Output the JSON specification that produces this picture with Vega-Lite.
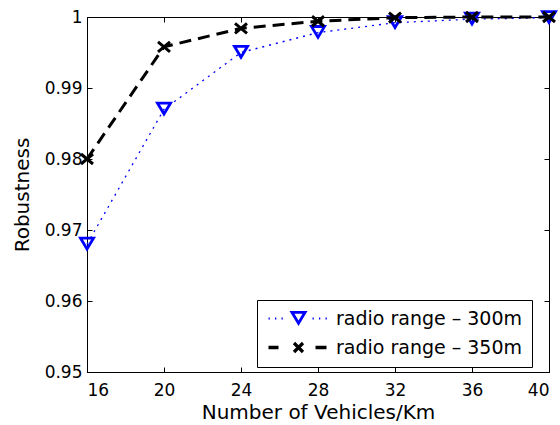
{
  "$schema": "https://vega.github.io/schema/vega-lite/v6.json",
  "width": 462,
  "height": 355,
  "autosize": {"type": "none"},
  "padding": {"left": 87, "top": 17, "right": 11, "bottom": 53},
  "background": "white",
  "config": {
    "view": {"stroke": "black", "strokeWidth": 1},
    "font": "DejaVu Sans",
    "axis": {
      "domainColor": "black", "tickColor": "black", "labelColor": "black", "titleColor": "black",
      "grid": false, "tickSize": -5, "tickWidth": 1, "domainWidth": 1,
      "labelFont": "DejaVu Sans", "labelFontSize": 17,
      "titleFont": "DejaVu Sans", "titleFontSize": 20, "titleFontWeight": "normal"
    }
  },
  "data": {"values": [
    {"n": 16, "series": "radio range – 300m", "r": 0.968},
    {"n": 20, "series": "radio range – 300m", "r": 0.987},
    {"n": 24, "series": "radio range – 300m", "r": 0.995},
    {"n": 28, "series": "radio range – 300m", "r": 0.9978},
    {"n": 32, "series": "radio range – 300m", "r": 0.9992},
    {"n": 36, "series": "radio range – 300m", "r": 0.9997},
    {"n": 40, "series": "radio range – 300m", "r": 0.9999},
    {"n": 16, "series": "radio range – 350m", "r": 0.980},
    {"n": 20, "series": "radio range – 350m", "r": 0.9958},
    {"n": 24, "series": "radio range – 350m", "r": 0.9984},
    {"n": 28, "series": "radio range – 350m", "r": 0.9994},
    {"n": 32, "series": "radio range – 350m", "r": 0.9999},
    {"n": 36, "series": "radio range – 350m", "r": 1.0},
    {"n": 40, "series": "radio range – 350m", "r": 1.0}
  ]},
  "layer": [
    {
      "transform": [{"filter": "datum.series === 'radio range – 300m'"}],
      "mark": {"type": "line", "color": "#0000ff", "strokeWidth": 1.3, "strokeDash": [2, 5], "strokeCap": "butt"},
      "encoding": {
        "x": {"field": "n", "type": "quantitative", "scale": {"domain": [16, 40], "nice": false, "zero": false},
              "axis": {"orient": "bottom", "values": [16, 20, 24, 28, 32, 36, 40], "title": "Number of Vehicles/Km", "labelPadding": 15, "titlePadding": 4}},
        "y": {"field": "r", "type": "quantitative", "scale": {"domain": [0.95, 1], "nice": false, "zero": false},
              "axis": {"orient": "left", "values": [0.95, 0.96, 0.97, 0.98, 0.99, 1], "format": "~g", "title": "Robustness", "labelPadding": 10, "titlePadding": 12}}
      }
    },
    {
      "transform": [{"filter": "datum.series === 'radio range – 300m'"}],
      "mark": {"type": "point", "shape": "M-9,-7.5L9,-7.5L0,7.5ZM-4.06,-4.7L0,2.06L4.06,-4.7Z", "size": 4, "filled": true, "color": "#0000ff", "opacity": 1, "strokeWidth": 0},
      "encoding": {
        "x": {"field": "n", "type": "quantitative", "axis": null},
        "y": {"field": "r", "type": "quantitative", "axis": null}
      }
    },
    {
      "transform": [{"filter": "datum.series === 'radio range – 350m'"}],
      "mark": {"type": "line", "color": "black", "strokeWidth": 3, "strokeDash": [12, 7], "strokeCap": "butt"},
      "encoding": {
        "x": {"field": "n", "type": "quantitative", "axis": {"orient": "top", "values": [16, 20, 24, 28, 32, 36, 40], "labels": false, "title": null, "domain": false}},
        "y": {"field": "r", "type": "quantitative", "axis": {"orient": "right", "values": [0.95, 0.96, 0.97, 0.98, 0.99, 1], "labels": false, "title": null, "domain": false}}
      }
    },
    {
      "transform": [{"filter": "datum.series === 'radio range – 350m'"}],
      "mark": {"type": "point", "shape": "M-5.04,-6.15L6.96,3.85L5.04,6.15L-6.96,-3.85ZM-6.96,3.85L5.04,-6.15L6.96,-3.85L-5.04,6.15Z", "size": 4, "filled": true, "color": "black", "opacity": 1, "strokeWidth": 0},
      "encoding": {
        "x": {"field": "n", "type": "quantitative", "axis": null},
        "y": {"field": "r", "type": "quantitative", "axis": null}
      }
    },
    {
      "mark": {"type": "point", "filled": true, "opacity": 0, "size": 4},
      "encoding": {
        "x": {"field": "n", "type": "quantitative", "axis": null},
        "y": {"field": "r", "type": "quantitative", "axis": null},
        "color": {"field": "series", "type": "nominal",
          "scale": {"domain": ["radio range – 300m", "radio range – 350m"], "range": ["#0000ff", "#000000"]},
          "legend": {"title": null, "orient": "none", "legendX": 170, "legendY": 283, "padding": 9,
            "strokeColor": "black", "fillColor": "white", "cornerRadius": 0,
            "symbolSize": 4, "symbolStrokeWidth": 0, "symbolOffset": 23, "labelOffset": 28,
            "labelFont": "DejaVu Sans", "labelFontSize": 19, "labelColor": "black", "labelLimit": 0, "rowPadding": 9,
            "encode": {"symbols": {"update": {"opacity": {"value": 1}}}}}},
        "shape": {"field": "series", "type": "nominal",
          "scale": {"domain": ["radio range – 300m", "radio range – 350m"],
            "range": ["M-30,-1L-28.7,-1L-28.7,1L-30,1ZM-23.5,-1L-22.2,-1L-22.2,1L-23.5,1ZM-17,-1L-15.7,-1L-15.7,1L-17,1ZM14,-1L15.3,-1L15.3,1L14,1ZM20.5,-1L21.8,-1L21.8,1L20.5,1ZM27,-1L28.3,-1L28.3,1L27,1ZM-9,-7.5L9,-7.5L0,7.5ZM-4.06,-4.7L0,2.06L4.06,-4.7Z",
                      "M-30,-1.75L-20,-1.75L-20,1.75L-30,1.75ZM17,-1.75L28,-1.75L28,1.75L17,1.75ZM-3.37,-5.63L5.63,3.37L3.37,5.63L-5.63,-3.37ZM-5.63,3.37L3.37,-5.63L5.63,-3.37L-3.37,5.63Z"]},
          "legend": {"title": null, "orient": "none", "legendX": 170, "legendY": 283, "padding": 9,
            "strokeColor": "black", "fillColor": "white", "cornerRadius": 0,
            "symbolSize": 4, "symbolStrokeWidth": 0, "symbolOffset": 23, "labelOffset": 28,
            "labelFont": "DejaVu Sans", "labelFontSize": 19, "labelColor": "black", "labelLimit": 0, "rowPadding": 9,
            "encode": {"symbols": {"update": {"opacity": {"value": 1}}}}}}
      }
    }
  ],
  "resolve": {"axis": {"x": "independent", "y": "independent"}}
}
